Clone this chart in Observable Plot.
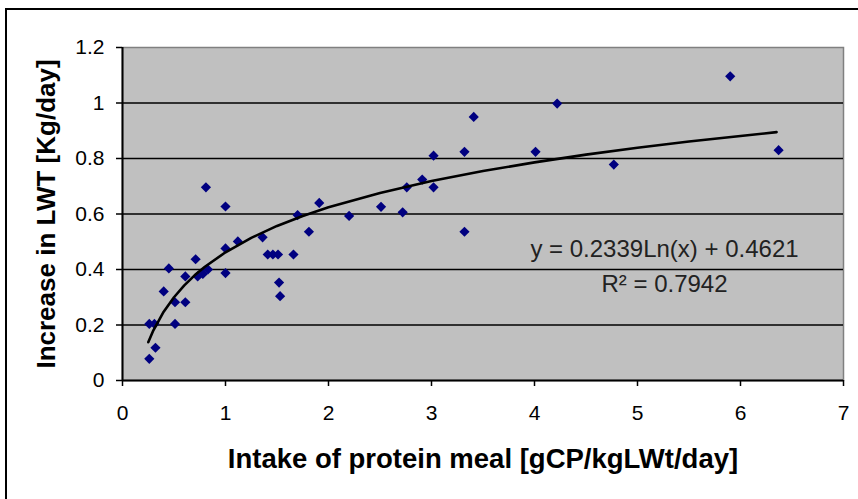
<!DOCTYPE html>
<html>
<head>
<meta charset="utf-8">
<script src="https://cdn.jsdelivr.net/npm/d3@7"></script>
<script src="https://cdn.jsdelivr.net/npm/@observablehq/plot@0.6"></script>
<style>
  html, body { margin: 0; padding: 0; background: #fff; overflow: hidden; }
  #wrap { position: relative; width: 858px; height: 499px; }
  #border { position: absolute; left: 5px; top: 8px; right: -10px; bottom: -10px;
            border-top: 2px solid #000; border-left: 2px solid #000; pointer-events: none; }
  #chart svg { display: block; }
</style>
</head>
<body>
<div id="wrap"><div id="chart"></div><div id="border"></div></div>
<script>
// Observed data: intake of protein meal (x) vs increase in LWT (y)
const intake = [0.26,0.26,0.31,0.32,0.40,0.45,0.51,0.51,0.61,0.61,0.71,0.73,0.78,0.81,0.83,1.0,1.0,1.0,1.12,1.36,1.41,1.46,1.51,1.52,1.53,1.66,1.70,1.81,1.91,2.20,2.51,2.72,2.76,2.91,3.02,3.02,3.32,3.32,3.41,4.01,4.22,4.77,5.90,6.37];
const gain   = [0.078,0.204,0.204,0.118,0.321,0.404,0.282,0.204,0.282,0.375,0.437,0.375,0.384,0.696,0.400,0.627,0.476,0.387,0.501,0.516,0.454,0.454,0.454,0.353,0.304,0.454,0.596,0.536,0.640,0.593,0.626,0.606,0.696,0.724,0.696,0.810,0.824,0.536,0.950,0.824,0.998,0.778,1.096,0.830];

// Logarithmic trend line
const trendX = [0.25,0.3,0.4,0.5,0.6,0.7,0.8,1,1.25,1.5,1.75,2,2.5,3,3.5,4,4.5,5,5.5,6,6.35];
const trendY = [0.138,0.181,0.248,0.300,0.343,0.379,0.410,0.462,0.514,0.557,0.593,0.624,0.676,0.719,0.755,0.786,0.814,0.839,0.861,0.881,0.895];

const xTicks = [0,1,2,3,4,5,6,7];
const xTickLabels = ["0","1","2","3","4","5","6","7"];
const yTicks = [0,0.2,0.4,0.6,0.8,1,1.2];
const yTickLabels = ["0","0.2","0.4","0.6","0.8","1","1.2"];
const gridY = [0.2,0.4,0.6,0.8,1];

const xTitle = "Intake of protein meal [gCP/kgLWt/day]";
const yTitle = "Increase in LWT [Kg/day]";
const equationText = ["y = 0.2339Ln(x) + 0.4621", "R² = 0.7942"];

const points = intake.map((x, i) => ({x, y: gain[i]}));
const trend = trendX.map((x, i) => ({x, y: trendY[i]}));

const font = "'Liberation Sans', Arial, sans-serif";
const xFmt = d => xTickLabels[xTicks.indexOf(d)];
const yFmt = d => yTickLabels[yTicks.findIndex(t => Math.abs(t - d) < 1e-9)];

const chart = Plot.plot({
  width: 858,
  height: 499,
  marginLeft: 122,
  marginRight: 15,
  marginTop: 47,
  marginBottom: 119,
  style: { fontFamily: font, background: "transparent", color: "#000", overflow: "visible" },
  x: { domain: [0, 7], ticks: xTicks, tickFormat: xFmt, label: null },
  y: { domain: [0, 1.2], ticks: yTicks, tickFormat: yFmt, label: null },
  marks: [
    Plot.frame({ fill: "#c0c0c0", stroke: "#808080", strokeWidth: 1.5 }),
    Plot.ruleY(gridY, { stroke: "#000", strokeWidth: 1.5 }),
    Plot.axisX({ ticks: xTicks, tickFormat: xFmt, tickSize: 6, tickPadding: 19, fontSize: 21, stroke: "#000", strokeWidth: 1.5, label: null }),
    Plot.axisY({ ticks: yTicks, tickFormat: yFmt, tickSize: 6, tickPadding: 12, fontSize: 21, stroke: "#000", strokeWidth: 1.5, label: null }),
    Plot.ruleY([0], { stroke: "#000", strokeWidth: 2 }),
    Plot.ruleX([0], { stroke: "#000", strokeWidth: 2 }),
    Plot.dot(points, { x: "x", y: "y", symbol: "diamond2", r: 4.6, fill: "#000080", stroke: "none" }),
    Plot.line(trend, { x: "x", y: "y", stroke: "#000", strokeWidth: 2.6, curve: "linear" }),
    Plot.text([equationText.join("\n")], { text: d => d, frameAnchor: "top-right", dx: -179, dy: 216, textAnchor: "middle", lineAnchor: "middle", lineHeight: 1.45, fontSize: 24, fill: "#222" }),
    Plot.text([xTitle], { text: d => d, frameAnchor: "bottom", dy: 79, lineAnchor: "middle", fontSize: 27.5, fontWeight: "bold", fill: "#000" }),
    Plot.text([yTitle], { text: d => d, frameAnchor: "left", dx: -76, rotate: -90, lineAnchor: "middle", textAnchor: "middle", fontSize: 26, fontWeight: "bold", fill: "#000" })
  ]
});
document.getElementById("chart").appendChild(chart);
</script>
</body>
</html>
